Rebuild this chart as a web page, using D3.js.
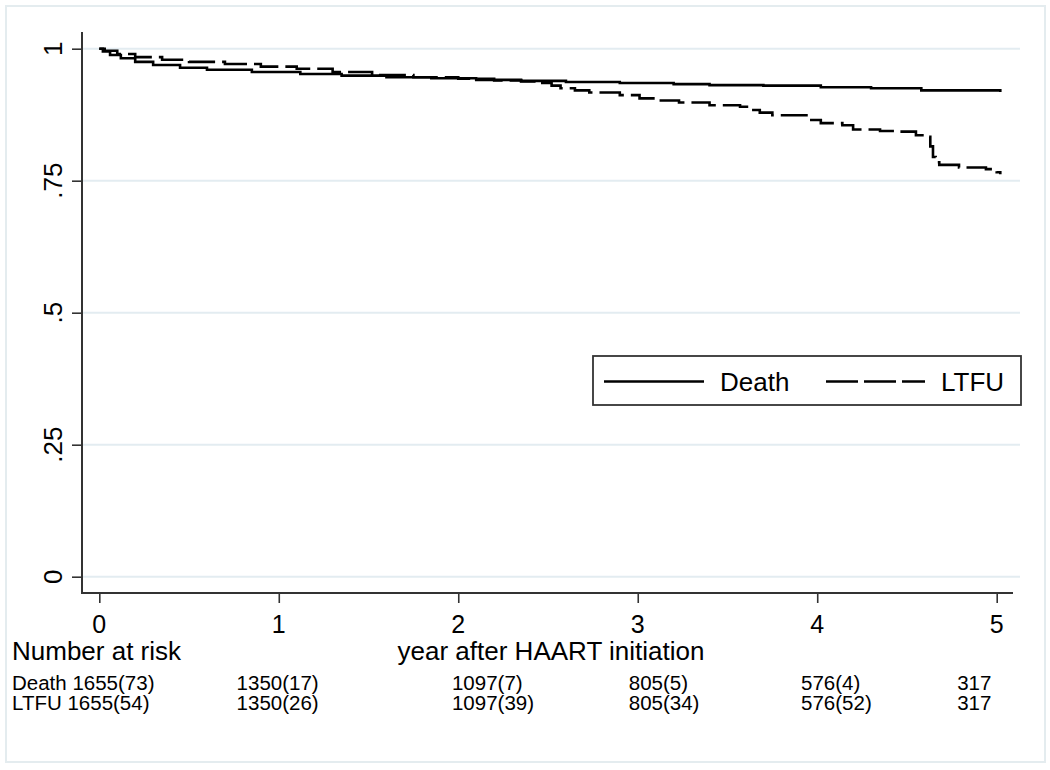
<!DOCTYPE html>
<html>
<head>
<meta charset="utf-8">
<script src="https://cdn.jsdelivr.net/npm/d3@7"></script>
<style>
  html, body { margin: 0; padding: 0; background: #fff; }
  svg { display: block; }
  text { font-family: "Liberation Sans", Arial, sans-serif; fill: #000; }
</style>
</head>
<body>
<svg id="chart" width="1050" height="770"></svg>
<script>
// ---------------- data ----------------
const deathTime = [0, 0.02, 0.06, 0.12, 0.2, 0.3, 0.45, 0.6, 0.85, 1.12, 1.35, 1.6, 1.85, 2.1, 2.35, 2.6, 2.9, 3.2, 3.4, 3.7, 4.02, 4.3, 4.58, 5.02];
const deathSurv = [1, 0.995, 0.988, 0.982, 0.975, 0.969, 0.964, 0.960, 0.956, 0.952, 0.949, 0.946, 0.944, 0.941, 0.939, 0.937, 0.935, 0.933, 0.931, 0.930, 0.927, 0.925, 0.921, 0.918];

const ltfuTime = [0, 0.03, 0.1, 0.2, 0.35, 0.5, 0.7, 0.9, 1.1, 1.3, 1.52, 1.75, 2.0, 2.2, 2.35, 2.46, 2.52, 2.57, 2.65, 2.73, 2.9, 3.01, 3.12, 3.23, 3.4, 3.57, 3.62, 3.68, 3.75, 3.94, 4.02, 4.14, 4.2, 4.35, 4.46, 4.55, 4.61, 4.63, 4.645, 4.66, 4.68, 4.79, 4.94, 5.0, 5.02];
const ltfuSurv = [1, 0.996, 0.99, 0.984, 0.979, 0.975, 0.971, 0.966, 0.962, 0.956, 0.950, 0.946, 0.943, 0.940, 0.938, 0.935, 0.930, 0.925, 0.921, 0.917, 0.912, 0.906, 0.902, 0.898, 0.893, 0.890, 0.884, 0.879, 0.874, 0.865, 0.859, 0.855, 0.847, 0.844, 0.843, 0.836, 0.833, 0.815, 0.795, 0.785, 0.780, 0.775, 0.772, 0.766, 0.762];

const seriesNames = ["Death", "LTFU"];
const xTicks = [0, 1, 2, 3, 4, 5];
const yTicks = [0, 0.25, 0.5, 0.75, 1];
const yTickLabels = ["0", ".25", ".5", ".75", "1"];
const xTitle = "year after HAART initiation";
const riskTitle = "Number at risk";
const riskDeathFirst = "Death 1655(73)";
const riskLtfuFirst = "LTFU 1655(54)";
const riskDeath = ["1350(17)", "1097(7)", "805(5)", "576(4)", "317"];
const riskLtfu  = ["1350(26)", "1097(39)", "805(34)", "576(52)", "317"];
// column anchors of the risk table, in years
const riskCols = [0.765, 1.965, 2.95, 3.91, 4.78];

// ---------------- layout ----------------
const svg = d3.select("#chart");
const x = d3.scaleLinear().domain([0, 5]).range([99.3, 996.7]);
const y = d3.scaleLinear().domain([0, 1]).range([576.7, 48.7]);
const axisX = 82, axisY = 593;
const axisColor = "#333";

// outer frame
svg.append("rect").attr("x", 6).attr("y", 6).attr("width", 1039).attr("height", 756)
  .attr("fill", "#fff").attr("stroke", "#e4ecef").attr("stroke-width", 2);

// gridlines
svg.append("g").selectAll("line").data(yTicks).join("line")
  .attr("x1", axisX).attr("x2", 1020)
  .attr("y1", d => y(d)).attr("y2", d => y(d))
  .attr("stroke", "#e3ecf1").attr("stroke-width", 2);

// y axis
const yAxis = svg.append("g").attr("transform", `translate(${axisX},0)`)
  .call(d3.axisLeft(y).tickValues(yTicks).tickSize(10).tickFormat(""));
yAxis.select(".domain").remove();
yAxis.selectAll(".tick line").attr("stroke", axisColor).attr("stroke-width", 1.6);
svg.append("line").attr("x1", axisX).attr("x2", axisX).attr("y1", 32).attr("y2", axisY + 1)
  .attr("stroke", axisColor).attr("stroke-width", 2);
svg.append("g").selectAll("text").data(yTicks).join("text")
  .attr("transform", d => `translate(62,${y(d)}) rotate(-90)`)
  .attr("text-anchor", "middle")
  .style("font-size", "26px")
  .text((d, i) => yTickLabels[i]);

// x axis
const xAxis = svg.append("g").attr("transform", `translate(0,${axisY})`)
  .call(d3.axisBottom(x).tickValues(xTicks).tickSize(10).tickFormat(""));
xAxis.select(".domain").remove();
xAxis.selectAll(".tick line").attr("stroke", axisColor).attr("stroke-width", 1.6);
svg.append("line").attr("x1", axisX - 1).attr("x2", 1013).attr("y1", axisY).attr("y2", axisY)
  .attr("stroke", axisColor).attr("stroke-width", 2);
svg.append("g").selectAll("text").data(xTicks).join("text")
  .attr("x", d => x(d)).attr("y", 633)
  .attr("text-anchor", "middle")
  .style("font-size", "25px")
  .text(d => d);

// titles
svg.append("text").attr("x", 12).attr("y", 660).style("font-size", "26px").text(riskTitle);
svg.append("text").attr("x", (axisX + 1020) / 2).attr("y", 660).attr("text-anchor", "middle")
  .style("font-size", "26px").text(xTitle);

// risk table
const riskFont = "20.5px";
svg.append("text").attr("x", 12).attr("y", 690).style("font-size", riskFont).text(riskDeathFirst);
svg.append("text").attr("x", 12).attr("y", 710).style("font-size", riskFont).text(riskLtfuFirst);
svg.append("g").selectAll("text").data(riskDeath).join("text")
  .attr("x", (d, i) => x(riskCols[i])).attr("y", 690).style("font-size", riskFont).text(d => d);
svg.append("g").selectAll("text").data(riskLtfu).join("text")
  .attr("x", (d, i) => x(riskCols[i])).attr("y", 710).style("font-size", riskFont).text(d => d);

// curves
const line = d3.line().x(d => x(d[0])).y(d => y(d[1])).curve(d3.curveStepAfter);
const deathData = deathTime.map((t, i) => [t, deathSurv[i]]);
const ltfuData = ltfuTime.map((t, i) => [t, ltfuSurv[i]]);
svg.append("path").datum(deathData).attr("d", line)
  .attr("fill", "none").attr("stroke", "#000").attr("stroke-width", 2.6);
svg.append("path").datum(ltfuData).attr("d", line)
  .attr("fill", "none").attr("stroke", "#000").attr("stroke-width", 2.6)
  .attr("stroke-dasharray", "27,7");

// legend
const lg = svg.append("g");
lg.append("rect").attr("x", 593).attr("y", 356).attr("width", 428).attr("height", 49)
  .attr("fill", "#fff").attr("stroke", "#333").attr("stroke-width", 1.8);
lg.append("line").attr("x1", 604).attr("x2", 704).attr("y1", 381.5).attr("y2", 381.5)
  .attr("stroke", "#000").attr("stroke-width", 2.6);
lg.append("text").attr("x", 720).attr("y", 391).style("font-size", "26px").text(seriesNames[0]);
lg.append("line").attr("x1", 826).attr("x2", 925).attr("y1", 381.5).attr("y2", 381.5)
  .attr("stroke", "#000").attr("stroke-width", 2.6).attr("stroke-dasharray", "32,6");
lg.append("text").attr("x", 941).attr("y", 391).style("font-size", "26px").text(seriesNames[1]);
</script>
</body>
</html>
